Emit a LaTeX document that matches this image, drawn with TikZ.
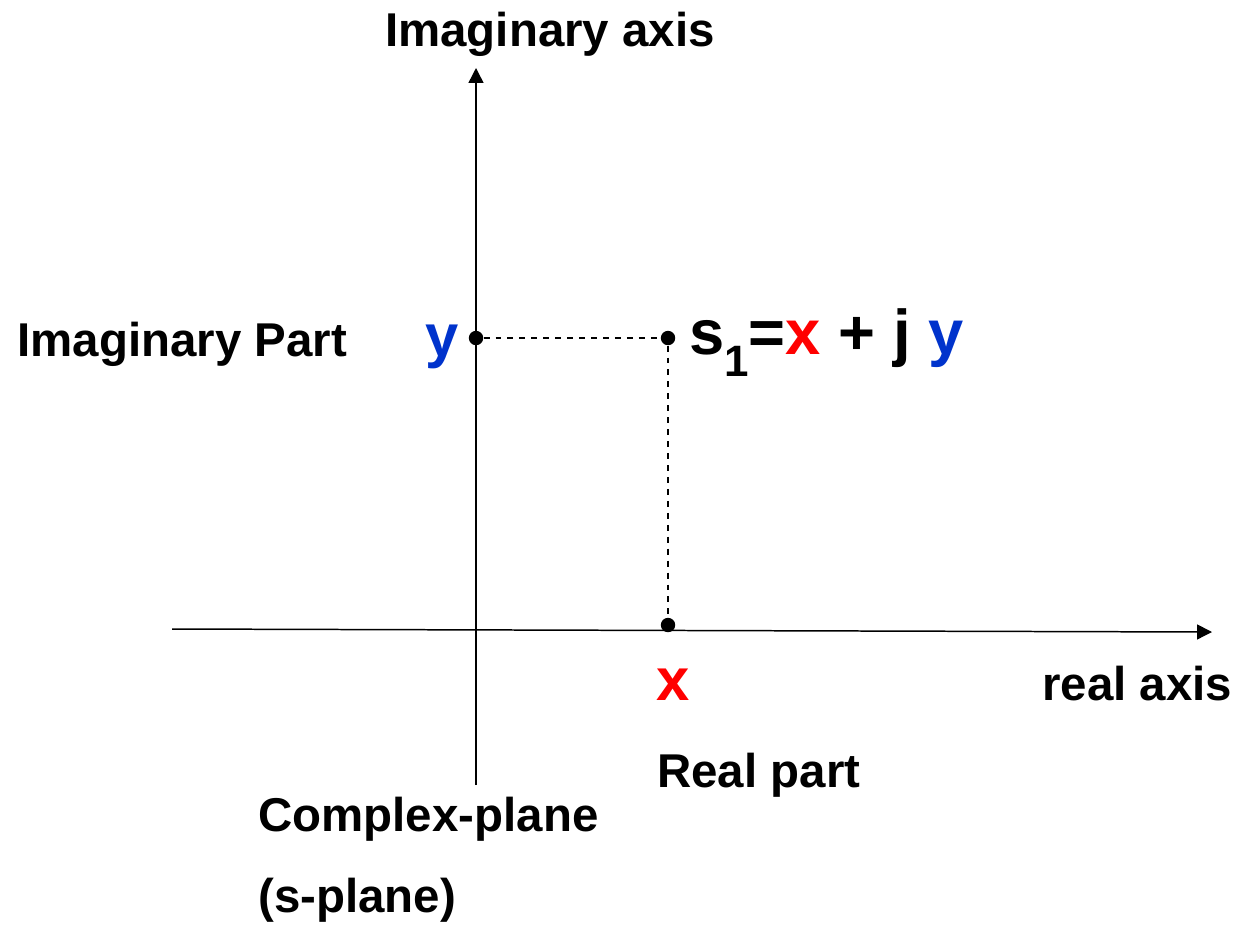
\documentclass[tikz,border=0pt]{standalone}
\usepackage{fontspec}
\setmainfont{Liberation Sans}
\usetikzlibrary{arrows.meta}
\definecolor{imblue}{RGB}{0,51,204}
\begin{document}
\begin{tikzpicture}[x=0.02cm,y=-0.02cm,>={Triangle[length=8.5pt,width=8.5pt]},
  lab/.style={font=\fontsize{27}{32}\selectfont\bfseries,inner sep=0pt},
  big/.style={font=\fontsize{34}{40}\selectfont\bfseries,inner sep=0pt},
  pt/.style={circle,fill,inner sep=0pt,minimum size=8.2pt}]
\useasboundingbox (0,0) rectangle (1236,924);
\coordinate (H1) at (172,629);
\coordinate (H2) at (1212,632);
\coordinate (V1) at (476,785);
\coordinate (V2) at (476,68);
\draw[line width=0.85pt,->](H1)--(H2);
\draw[line width=0.85pt,->](V1)--(V2);

\node[pt] (P1) at (476,338){};
\node[pt] (P2) at (668,338){};
\node[pt] (P3) at (668,625){};
\draw[line width=0.7pt,dash pattern=on 3.4pt off 3.4pt](P1)--(P2);
\draw[line width=0.7pt,dash pattern=on 3.4pt off 3.4pt](P2)--(P3);

\node[lab,anchor=base] (A1) at (550,46){Imaginary axis};
\node[lab,anchor=base west] (A2) at (17,356){Imaginary Part};
\node[big,anchor=base,text=imblue] (A3) at (442,356){y};
\node[big,font=\fontsize{36}{40}\selectfont\bfseries,anchor=base west] (A4) at (689,354){s\raisebox{-13pt}{\fontsize{25}{25}\selectfont 1}=\textcolor{red}{x} + j \textcolor{imblue}{y}};
\node[big,anchor=base,text=red] (A5) at (673,700){x};
\node[lab,anchor=base west] (A6) at (1042,700){real axis};
\node[lab,anchor=base west] (A7) at (657,787){Real part};
\node[lab,anchor=base west] (A8) at (258,831){Complex-plane};
\node[lab,anchor=base west] (A9) at (258,912){(s-plane)};
\end{tikzpicture}
\end{document}
